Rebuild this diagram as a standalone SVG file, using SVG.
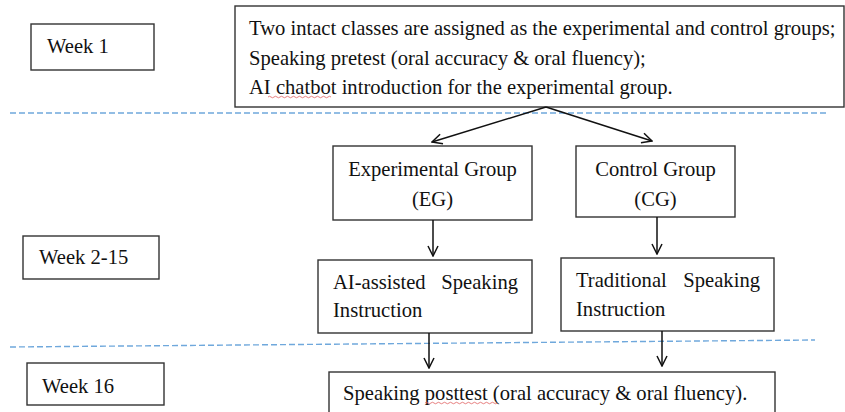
<svg xmlns="http://www.w3.org/2000/svg" width="845" height="412" viewBox="0 0 845 412">
<defs>
<style>
.box{fill:#fff;stroke:#333;stroke-width:1.4}
.t{font-family:"Liberation Serif","Times New Roman",serif;font-size:20.6px;fill:#111}
.c{text-anchor:middle}
.e{text-anchor:end}
.dash{stroke:#6fa8dc;stroke-width:1.4;stroke-dasharray:6 3;fill:none}
.arr{stroke:#111;stroke-width:1.5;fill:none}
.sq{stroke:#e06060;stroke-width:0.8;fill:none}
</style>
<marker id="ah" viewBox="0 0 12 12" refX="11" refY="6" markerWidth="12" markerHeight="12" markerUnits="userSpaceOnUse" orient="auto">
<path d="M1,1 L11,6 L1,11" fill="none" stroke="#111" stroke-width="1.5"/>
</marker>
</defs>
<rect width="845" height="412" fill="#fff"/>
<g id="dividers">
<line class="dash" x1="10" y1="113" x2="827" y2="113"/>
<line class="dash" x1="10" y1="347" x2="815" y2="340"/>
</g>
<g id="week1">
<rect class="box" x="31" y="24" width="123" height="46"/>
<text class="t" x="47" y="53">Week 1</text>
</g>
<g id="week2-15">
<rect class="box" x="23" y="236" width="136" height="43"/>
<text class="t" x="39" y="264">Week 2-15</text>
</g>
<g id="week16">
<rect class="box" x="27" y="363" width="137" height="42"/>
<text class="t" x="42" y="393">Week 16</text>
</g>
<g id="start">
<rect class="box" x="235" y="6" width="609" height="101"/>
<text class="t" x="249" y="35">Two intact classes are assigned as the experimental and control groups;</text>
<text class="t" x="249" y="65">Speaking pretest (oral accuracy &amp; oral fluency);</text>
<text class="t" x="249" y="94">AI chatbot introduction for the experimental group.</text>
<path class="sq" d="M268,97 q1.5,-1.5 3,0 t3,0 t3,0 t3,0 t3,0 t3,0 t3,0 t3,0 t3,0 t3,0 t3,0 t3,0 t3,0 t3,0 t3,0 t3,0 t3,0 t3,0 t3,0 t3,0 t3,0"/>
</g>
<g id="eg">
<rect class="box" x="333" y="146" width="199" height="74"/>
<text class="t c" x="432.5" y="176">Experimental Group</text>
<text class="t c" x="432.5" y="206">(EG)</text>
</g>
<g id="cg">
<rect class="box" x="576" y="146" width="159" height="71"/>
<text class="t c" x="655.5" y="176">Control Group</text>
<text class="t c" x="655.5" y="206">(CG)</text>
</g>
<g id="ai">
<rect class="box" x="318" y="260" width="214" height="73"/>
<text class="t" x="333" y="289">AI-assisted</text>
<text class="t e" x="518" y="289">Speaking</text>
<text class="t" x="333" y="317">Instruction</text>
</g>
<g id="trad">
<rect class="box" x="561" y="258" width="213" height="73"/>
<text class="t" x="576" y="287">Traditional</text>
<text class="t e" x="760" y="287">Speaking</text>
<text class="t" x="576" y="316">Instruction</text>
</g>
<g id="posttest">
<rect class="box" x="329" y="372" width="446" height="45"/>
<text class="t" x="343" y="400">Speaking posttest (oral accuracy &amp; oral fluency).</text>
<path class="sq" d="M425,403 q1.5,-1.5 3,0 t3,0 t3,0 t3,0 t3,0 t3,0 t3,0 t3,0 t3,0 t3,0 t3,0 t3,0 t3,0 t3,0 t3,0 t3,0 t3,0 t3,0 t3,0 t3,0 t3,0 t3,0 t3,0 t3,0"/>
</g>
<g id="connectors">
<line class="arr" x1="546" y1="107" x2="432" y2="142" marker-end="url(#ah)"/>
<line class="arr" x1="546" y1="107" x2="652" y2="141" marker-end="url(#ah)"/>
<line class="arr" x1="433" y1="220" x2="433" y2="256" marker-end="url(#ah)"/>
<line class="arr" x1="657" y1="217" x2="657" y2="254" marker-end="url(#ah)"/>
<line class="arr" x1="429" y1="333" x2="429" y2="368" marker-end="url(#ah)"/>
<line class="arr" x1="662" y1="331" x2="662" y2="366" marker-end="url(#ah)"/>
</g>
</svg>
